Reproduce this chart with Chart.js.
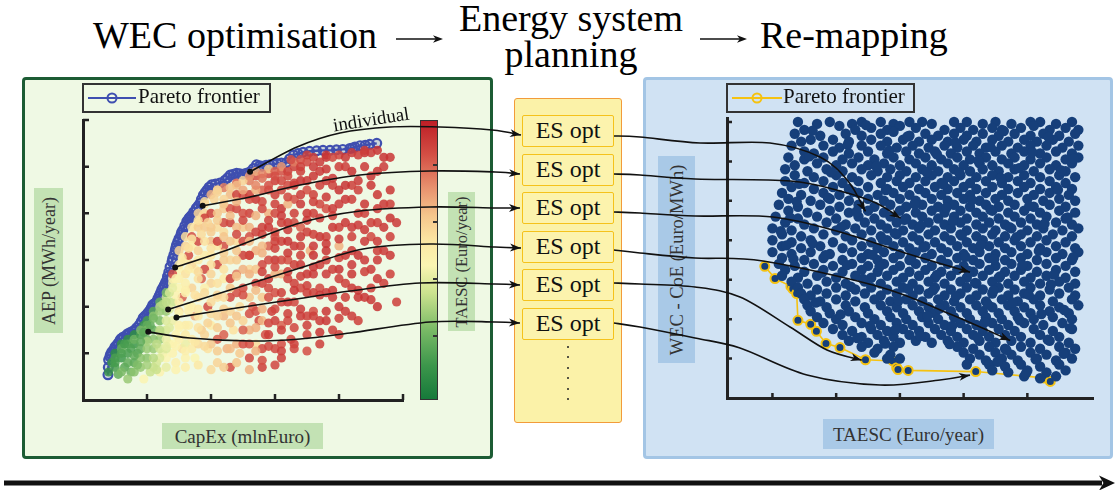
<!DOCTYPE html>
<html>
<head>
<meta charset="utf-8">
<script src="https://cdn.jsdelivr.net/npm/chart.js@4.4.1/dist/chart.umd.min.js"></script>
<style>
  html, body { margin: 0; padding: 0; background: #fff; }
  #stage { position: relative; width: 1116px; height: 490px; overflow: hidden;
           font-family: 'Liberation Serif', 'DejaVu Serif', serif; color: #111; }
  .title { position: absolute; font-size: 38px; line-height: 38px; white-space: nowrap; color: #000; }
  .panel { position: absolute; box-sizing: border-box; border-radius: 4px; }
  .lab { position: absolute; box-sizing: border-box; color: #333; white-space: nowrap; }
  .lab span { position: absolute; left: 50%; top: 50%; line-height: 1; transform: translate(-50%, -50%); }
  .lab.rot span { transform: translate(-50%, -50%) rotate(-90deg); }
  .es { position: absolute; box-sizing: border-box; left: 522px; width: 92px; height: 32px;
        background: #fcf3ad; border: 1.5px solid #f5c21b; border-radius: 2px;
        font-size: 24px; line-height: 29px; text-align: center; color: #111; }
  .legend { position: absolute; box-sizing: border-box; border: 2px solid #333; height: 30px; }
  .legend span { position: absolute; font-size: 21px; line-height: 21px; top: 1px; color: #111; white-space: nowrap; }
  canvas { position: absolute; }
</style>
</head>
<body>
<div id="stage">
  <div class="title" style="left:93px;top:16px">WEC optimisation</div>
  <div class="title" style="left:421px;top:-1px;width:300px;text-align:center">Energy system</div>
  <div class="title" style="left:421px;top:35px;width:300px;text-align:center">planning</div>
  <div class="title" style="left:760px;top:16px">Re-mapping</div>

  <div class="panel" style="left:22px;top:77px;width:471px;height:382px;background:#eff9e4;border:3px solid #1c5c34"></div>
  <div class="panel" style="left:643px;top:77px;width:470px;height:382px;background:#d0e2f3;border:3px solid #a3c5e5"></div>
  <div class="panel" style="left:514px;top:98px;width:108px;height:325px;background:#fbf2a8;border:1.5px solid #f29b3a;border-radius:3px"></div>

  <canvas id="wecChart" width="340" height="300" style="left:73px;top:110px"></canvas>
  <div id="colorbar" style="position:absolute;left:420px;top:120px;width:18px;height:280px;box-sizing:border-box;border:1px solid #333"></div>

  <div class="lab rot" style="left:34px;top:188px;width:29px;height:145px;background:#c3e2b4"><span style="font-size:18px">AEP (MWh/year)</span></div>
  <div class="lab rot" style="left:448px;top:192px;width:27px;height:139px;background:#c3e2b4"><span style="font-size:16.5px">TAESC (Euro/year)</span></div>
  <div class="lab" style="left:162px;top:423px;width:161px;height:26px;background:#c3e2b4"><span style="font-size:19px">CapEx (mlnEuro)</span></div>
  <div class="lab" style="left:331px;top:106px;width:80px;height:26px;transform:rotate(-9deg);color:#111"><span style="font-size:19px">individual</span></div>

  <div class="legend" style="left:82px;top:83px;width:189px">
    <svg width="52" height="26" style="position:absolute;left:2px;top:0"><line x1="2" y1="13" x2="50" y2="13" stroke="#3f4fb0" stroke-width="2"/><circle cx="26" cy="13" r="4.5" fill="none" stroke="#3f4fb0" stroke-width="2"/></svg>
    <span style="left:54px">Pareto frontier</span>
  </div>

  <div id="esColumn"></div>

  <canvas id="remapChart" width="386" height="300" style="left:717px;top:108px"></canvas>
  <div class="lab rot" style="left:658px;top:156px;width:37px;height:207px;background:#a9c9e7"><span style="font-size:18.5px">WEC - CoE (Euro/MWh)</span></div>
  <div class="lab" style="left:823px;top:419px;width:171px;height:30px;background:#a9c9e7"><span style="font-size:19px">TAESC (Euro/year)</span></div>
  <div class="legend" style="left:726px;top:83px;width:189px">
    <svg width="54" height="26" style="position:absolute;left:2px;top:0"><line x1="2" y1="13" x2="52" y2="13" stroke="#f5c211" stroke-width="2"/><circle cx="27" cy="13" r="4.5" fill="none" stroke="#f5c211" stroke-width="2"/></svg>
    <span style="left:55px">Pareto frontier</span>
  </div>

  <canvas id="overlay" width="1116" height="490" style="left:0;top:0"></canvas>
</div>

<script>
// ── values ──────────────────────────────────────────────────
// left plot: CapEx (x, 10 units per tick) vs AEP (y), colour = TAESC (0..100)
const capexTicks = [10, 20, 30, 40, 50];
const aepTicks = [10, 20, 30, 40, 50, 60];
const taescBarTicks = [22.5, 43, 63.5, 84];

const wecPareto = [
  [3.9,5.4],[3.95,7.0],[4.0,8.6],[4.2,9.3],[4.3,9.8],[4.5,10.3],[4.8,10.8],[5.0,11.4],[5.3,11.8],[5.5,12.2],
  [5.8,12.9],[6.0,13.2],[6.3,13.5],[6.8,13.9],[7.0,14.2],[7.3,14.4],[7.7,14.7],[8.1,15.0],[8.4,15.5],[8.8,16.1],
  [9.1,16.8],[9.4,17.6],[9.7,18.0],[10.0,18.4],[10.2,18.8],[10.5,19.3],[10.7,19.8],[10.9,20.4],[11.2,20.7],[11.5,21.1],
  [11.7,21.7],[11.9,22.3],[12.1,22.9],[12.3,23.6],[12.5,24.1],[12.7,24.6],[12.9,25.2],[13.1,25.7],[13.2,26.5],[13.4,27.4],
  [13.6,28.5],[13.9,29.6],[14.0,30.3],[14.2,31.1],[14.4,32.0],[14.5,32.6],[14.6,33.2],[14.8,33.9],[15.0,34.6],[15.3,35.4],
  [15.4,35.9],[15.6,36.4],[15.9,37.3],[16.2,38.2],[16.4,38.6],[16.6,39.0],[16.8,39.3],[17.0,39.6],[17.3,40.3],[17.7,41.1],
  [18.0,41.6],[18.3,42.2],[18.5,43.0],[18.8,43.9],[19.1,44.5],[19.4,45.0],[19.7,45.6],[20.1,46.1],[20.7,46.3],[21.4,46.5],
  [22.2,47.1],[22.6,47.6],[23.0,48.2],[23.5,48.4],[24.0,48.6],[24.5,48.5],[25.0,48.4],[25.5,48.6],[26.1,48.9],[26.6,49.6],
  [27.1,50.4],[27.6,50.2],[28.0,50.1],[28.6,50.3],[29.2,50.4],[29.8,50.5],[30.3,50.7],[31.0,50.8],[31.8,50.9],[32.3,51.7],
  [32.9,52.5],[33.6,52.8],[34.4,53.1],[35.4,53.3],[36.5,53.4],[37.5,53.5],[38.6,53.5],[39.6,53.6],[40.6,53.7],[41.7,53.9],
  [42.1,54.0],[42.5,54.2],[43.3,54.5],[44.1,54.6],[44.8,54.8],[45.9,55.0]
];

// [capex, aep, taesc]
const wecSamples = [
  [4,6,10],[4.5,8,12],[5,7,15],[5,10,8],[5.5,5.5,20],[6,9,12],[6,12,10],[6.5,7,18],[7,10,14],[7,13,9],
  [7.5,6,22],[8,8,18],[8,12,12],[8,14,8],[8.5,10,16],[7,4.5,30],[5,9,15],[6,11,20],[7,12,18],[8,13,22],
  [9,7,30],[9,11,20],[9,14,15],[9.5,16,12],[10,9,28],[10,13,22],[10,17,14],[10.5,6,38],[11,11,30],[11,15,20],
  [11,19,18],[11.5,8,40],[12,13,30],[12,17,25],[12,21,20],[12.5,10,45],[9.5,4.5,48],[12,6,50],[9,15,25],[10,16,20],
  [11,18,28],[12,20,35],[13,22,40],[14,25,45],[15,28,50],[16,30,55],[17,33,55],[18,38,58],[19,40,62],
  [13,9,48],[13,15,40],[13,19,30],[13,23,25],[13.5,12,55],[14,17,45],[14,21,38],[14,26,52],[14.5,8,52],[14.5,14,50],
  [15,19,60],[15,24,48],[15,29,55],[15,32,62],[15.5,11,58],[15.5,22,85],[16,16,55],[16,27,58],[16,35,60],[16,9,50],[14,27,88],
  [16.5,20,50],[16.5,31,88],[17,13,55],[17,24,62],[17,37,58],[17.5,9,48],[17.5,18,70],[17.5,28,52],[18,34,90],[18,40,62],
  [18,22,60],[18.5,15,65],[18.5,26,85],[19,31,55],[19,37,65],[19,42,60],[19.5,11,58],[19.5,20,90],[20,25,62],[20,34,68],
  [20,44,70],[20,16,55],[20,40,92],
  [21,8,62],[21,13,85],[21,22,58],[21,29,90],[21,37,60],[21,45,75],[22,18,68],[22,26,55],[22,33,88],[22,41,65],
  [22,45.5,80],[22.5,11,70],[23,7,88],[23,22,90],[23,30,62],[23,38,92],[23,44,68],[23.5,15,58],[24,27,80],[24,34,60],
  [24,46.5,85],[24,41,90],[24.5,10,65],[24.5,20,60],[25,24,88],[25,31,92],[25,37,65],[25,44,90],
  [26,9,90],[26,15,70],[26,28,62],[26,35,88],[26,40,92],[26,47,80],[26.5,20,85],[27,12,60],[27,25,92],[27,32,70],
  [27,43,94],[27,48,88],[27.5,17,90],[28,7,92],[28,22,65],[28,29,90],[28,37,92],[28,45,85],[28.5,14,88],[29,26,94],
  [29,33,85],[29,40,70],[29,48.5,90],[29.5,19,92],[30,11,90],[30,23,88],[30,30,95],[30,44,92],[30,36,88],
  [31,9,92],[31,16,85],[31,27,70],[31,34,92],[31,41,95],[31,49,88],[32,21,95],[32,30,88],[32,38,94],[32,46,90],
  [32.5,13,90],[33,25,92],[33,33,94],[33,43,88],[33,50,92],[34,18,93],[34,29,94],[34,37,85],[34,47,95],[35,14,90],
  [35,23,92],[35,40,94],[35,51,90],[35.5,32,70],[36,27,93],[36,44,92],[36,19,88],
  [37,12,92],[37,35,95],[37,49,93],[37,24,90],[38,17,94],[38,30,92],[38,41,88],[38,52,95],[39,22,93],[39,37,94],
  [39,46,92],[40,14,92],[40,28,95],[40,33,70],[41,19,93],[41,43,94],[41,50,92],[42,24,94],[42,37,93],
  [43,17,92],[43,31,95],[43,47,93],[44,22,94],[44,40,92],[44,53,95],[45,28,93],[45,35,90],[46,20,95],[46,44,94],
  [47,25,92],[47,32,93],[48,39,95],[48,52,94],[49,21,92],[49,38,93],
  [21,45,60],[25,47,62],[27,49,70],[29,49.5,65],[31,50,75],[33,51,80],[36,52,92],[38,52.5,94],[40,52.5,90],[42,53,93],
  [44,53.5,92],[46,53.5,95],[34,51.5,88],[30,49,85],[28,48.5,78],[24,46,68],
  [14,12,48],[15,16,52],[16,23,50],[17,20,53],[18,18,56],[19,24,52],[20,29,58],[21,33,56],[22,36,60],[16,12,45],
  [13,17,42],[12,9,42],[11,7,38],
  [15,21,55],[16,25,52],[16,33,62],[17,29,60],[17,35,88],[18,26,58],[18,30,55],[18,37,64],[19,28,90],[19,34,58],
  [19,39,92],[20,21,60],[20,31,56],[20,37,65],[21,18,62],[21,25,58],[21,34,92],[21,40,66],[22,14,85],[22,22,60],
  [22,30,64],[22,38,90],[22,43,62],[23,19,62],[23,26,92],[23,34,66],[23,41,88],[24,12,70],[24,23,88],[24,30,64],
  [24,37,68],[24,44,92],[25,17,62],[25,28,70],[25,34,90],[25,40,88],[26,12,88],[26,22,66],[26,31,90],[26,37,70],
  [26,44,92],[27,19,88],[27,28,66],[27,36,92],[27,45,70],[28,11,90],[28,17,68],[28,25,92],[28,33,68],[28,41,90],
  [29,14,92],[29,22,88],[29,30,90],[29,37,94],[29,45,88],[30,17,92],[30,27,70],[30,34,92],[30,40,90],[30,47,92],
  [31,12,88],[31,21,92],[31,30,90],[31,38,92],[31,45,90],[32,17,90],[32,26,92],[32,34,95],[32,42,70],[32,49,92],
  [33,12,92],[33,21,90],[33,29,92],[33,38,90],[33,46,92],[34,24,90],[34,33,92],[34,42,94],[34,50,92],[35,18,92],
  [35,27,94],[35,36,92],[35,45,88],[36,23,92],[36,31,95],[36,40,92],[36,48,94],[37,17,93],[37,29,92],[37,42,90],
  [38,23,93],[38,35,92],[38,47,94],[39,28,92],[39,41,93],[40,20,94],[40,37,92],[40,45,95],[41,25,92],[41,31,94],
  [42,29,93],[42,46,92],[43,22,94],[43,40,92],[44,34,93],[45,24,92],[45,48,94],[46,30,93],[46,38,92],[47,42,94],
  [47,50,93],[48,27,92],[48,45,94],
  [10,11,30],[11,9,35],[12,11,40],[13,13,45],[14,10,50],[15,13,52],[16,14,55],[17,11,55],[18,12,60],[19,14,62],
  [20,12,65],[10,15,25],[11,13,28],[12,15,35],[13,11,42],[9,9,28],[8,6,28],[6,6,25],[7,8,20],
  [32.5,51.5,88],[35,52.5,92],[37,51,93],[39,52,90],[41,52,94],[43,52.5,92],[45,53,93],[47,52,95],
  [26,48,75],[28,47.5,82],[30,48,88],[32,48,90],[34,49,92],[36,50,93],[38,49.5,94],[40,50,92],[42,49,95],[44,50,93],[46,49,94],
  [21,44.5,62],[23,45.5,66],[25,45,72],[27,46,78],[29,46,88],[31,47,90],[33,46.5,92],[35,47,94],[37,46,92],[39,47.5,93],
  [41,46,95],[43,45,92],[45,46,94],
  [19,42.5,60],[20.5,43,62],[22,42,66],[24,42.5,70],[26,43,88],[28,42.5,90],[30,42,92],[32,43.5,90],[34,44,93],[36,42.5,92],
  [38,43.5,94],[40,42,93],[42,43,92],[44,42,94],[46,41,93],[48,42,92],
  [18,38.5,58],[19.5,38,62],[21,38.5,64],[23,39.5,68],[25,38.5,90],[27,39.5,70],[29,38.5,92],[31,39.5,93],[33,40,92],[35,38.5,94],
  [37,39,93],[39,39.5,92],[41,38,94],[43,37.5,93],[45,38,92],[47,37,94],
  [17,34.5,56],[18.5,35.5,60],[20,36,64],[22,35,66],[24,35.5,90],[26,34,68],[28,35.5,92],[30,35,90],[32,36.5,93],[34,35,94],
  [36,35.5,92],[38,33.5,94],[40,34.5,93],[42,35,92],[44,36.5,94],[46,34,93],[48,35,92],
  [15.5,30.5,55],[16.5,32.5,58],[18,32,62],[20,32.5,58],[22,31.5,64],[24,32,66],[26,31,90],[28,31.5,70],[30,32.5,92],[32,31.5,94],
  [34,31,92],[36,33,93],[38,32,95],[40,30.5,92],[42,32,94],[44,30,93],[46,32,92],[48,31,94],
  [15,26,52],[16.5,28,55],[18,27.5,60],[20,27,62],[22,28,58],[24,26.5,66],[26,27,70],[28,27.5,92],[30,28.5,90],[32,27.5,93],
  [34,26.5,92],[36,28.5,94],[38,27,93],[40,26,92],[42,27,94],[44,27.5,92],[46,26,93],
  [14.5,22.5,50],[16,23.5,52],[17.5,22.5,58],[19,23,60],[21,22.5,62],[23,24,66],[25,22.5,88],[27,23.5,68],[29,24,90],[31,23,92],
  [33,23.5,94],[35,24.5,92],[37,22.5,93],[39,23.5,94],[41,22,92],[43,23.5,93],[45,21.5,94],
  [13.5,19.5,42],[15,18.5,48],[16.5,19,52],[18,19.5,56],[20,18.5,60],[22,19.5,64],[24,18,66],[26,18.5,88],[28,19.5,70],[30,19.5,90],
  [32,18.5,92],[34,19.5,93],[36,18,92],[38,19,94],[40,17.5,92],[42,18,93],
  [12,14.5,36],[13.5,15.5,42],[15,15.5,50],[16.5,16,52],[18,15.5,58],[19.5,16.5,62],[21,15.5,64],[23,16.5,66],[25,15,85],[27,15.5,70],
  [29,16.5,90],[31,15,92],[33,15.5,90],[35,16,92],[37,14.5,94],[39,15,92],
  [10,12.5,32],[11.5,12,36],[13,11.5,44],[14.5,11.5,50],[16,10.5,52],[17.5,12.5,56],[19,11.5,60],[21,10.5,64],[23,11,68],[25,12,88],
  [27,10.5,70],[29,11.5,90],[31,10.5,92],[33,11,90],[35,10.5,88],
  [8.5,7.5,26],[10,7.5,32],[11.5,6.5,38],[13,7,44],[14.5,6.5,50],[16,7,52],[18,7.5,56],[20,6.5,60],[22,7,64],[24,8,66],
  [26,6.5,70],[28,8.5,88],[30,7.5,90],
  [5,8,14],[6,10,16],[6.5,12,14],[7.5,11,16],[8,9.5,20],[9,12.5,20],[9.5,14.5,18],[10.5,16,20],[11,17.5,24],[12,19,30],
  [12.5,20.5,34],[13,21,36],[13.5,23,40],[14,24,44],[14.5,26,48]
];

// designs picked for energy-system runs [capex, aep]
const wecPicks = [[26.1,48.9],[18.7,41.6],[14.4,28.4],[13.3,19.4],[14.6,17.7],[10.2,14.6]];

// right plot: TAESC (x) vs WEC CoE (y)
const remapXTicks = [10, 20, 30, 40, 50];
const remapYTicks = [10, 20, 30, 40, 50, 60, 70];

const remapPareto = [
  [8.8,33.4],[10.4,30.3],[12.9,28.3],[13.2,27.7],[13.8,26.5],[14.0,19.7],[16.0,18.7],[16.9,16.9],[18.4,13.8],
  [20.6,12.8],[24.6,9.7],[28.9,9.4],[29.5,7.7],[29.7,7.2],[31.3,7.0],[41.9,6.7],[52.6,5.1],[53.6,4.2]
];

const remapSamples = [
  [14,70],[17,69.5],[19,70],[22.5,69.5],[24,70],[27,70],[29,69.5],[31.5,70],[33.5,70],[35,69.5],[38.5,70],[40.5,70],[43,69.5],[45,70],[47.5,69.5],[50.5,70],[52,70],[54.5,69.5],[57,70],
  [15,68],[20.5,69],[23,68],[25.5,68.5],[28,68],[30,69],[32.5,68.5],[37,68],[39.5,68.5],[41.5,68],[44.5,68.5],[46,68],[49,68.5],[51,69],[53.5,68],[56,68.5],[58,68],
  [13.5,67],[17.5,66.5],[21.5,67],[24,66.5],[27,67],[29,67.5],[31.5,66.5],[34,67],[36,66.5],[38.5,67],[40.5,66.5],[43,67],[45.5,66.5],[48,67],[50.5,66.5],[52.5,67],[55,66.5],[57.5,67],
  [14.5,65],[16,65.5],[19.5,65.5],[22,65],[25.5,65.5],[28,65],[30.5,65.5],[33,65],[35,65.5],[37.5,65],[40,65.5],[42,65],[44.5,65.5],[47,65],[49.5,65.5],[51.5,65],[54,65.5],[56.5,65],
  [13,64],[18,64],[20.5,63.5],[24,64],[27,64],[29.5,63.5],[32,64],[34.5,63.5],[37,64],[39,63.5],[41.5,64],[43.5,63.5],[46,64],[48.5,63.5],[50.5,64],[53,64],[55.5,63.5],[58,64],
  [15,62.5],[16.5,62],[19.5,62.5],[22,62],[25,62.5],[28,62],[31,62.5],[33,62],[35.5,62.5],[38,62],[40.5,62.5],[42.5,62],[45,62.5],[47.5,62],[49.5,62.5],[52,62],[54.5,62.5],[57,62],
  [12.5,61],[15,60.5],[18,61],[21,60.5],[23.5,61],[26,60.5],[29,61],[31.5,60.5],[34,61],[36.5,60.5],[39,61],[41,60.5],[43.5,61],[46,60.5],[48,61],[50.5,60.5],[53,61],[56,60.5],[58,61],
  [13.5,59],[17,59.5],[20,59],[22.5,59.5],[25,59],[27.5,59.5],[30,59],[32.5,59.5],[35,59],[37.5,59.5],[40,59],[42.5,59.5],[44.5,59],[47,59.5],[49.5,59],[52,59.5],[54.5,59],[57,59.5],
  [12,58],[15.5,57.5],[18.5,58],[21,57.5],[24,58],[26.5,57.5],[28.5,58],[31,57.5],[33.5,58],[36,57.5],[38.5,58],[41,57.5],[43,58],[45.5,57.5],[48,58],[51,57.5],[53.5,58],[56,57.5],
  [13.5,56.5],[16.5,56],[20,56.5],[22.5,56],[25.5,56.5],[28,56],[30,56.5],[32.5,56],[35,56.5],[37.5,56],[39.5,56.5],[42,56],[44.5,56.5],[47,56],[49.5,56.5],[52,56],[55,56.5],[57.5,56],
  [12,55],[15,54.5],[18,55],[21,54.5],[23.5,55],[27,54.5],[29.5,55],[31.5,54.5],[34,55],[36.5,54.5],[38.5,55],[41,54.5],[43.5,55],[46,54.5],[48.5,55],[50.5,54.5],[53.5,55],[56,54.5],
  [13,53.5],[16.5,53],[19.5,53.5],[22,53],[25,53.5],[28,53],[30.5,53.5],[33,53],[35.5,53.5],[37.5,53],[40,53.5],[42,53],[44.5,53.5],[47,53],[49.5,53.5],[52,53],[54.5,53.5],[57,53],
  [11.5,52],[14.5,51.5],[18,52],[20.5,51.5],[23.5,52],[26.5,51.5],[29,52],[31.5,51.5],[34,52],[36.5,51.5],[39,52],[41,51.5],[43.5,52],[46,51.5],[48.5,52],[51,51.5],[53.5,52],[56.5,51.5],
  [12.5,50.5],[16,50],[19,50.5],[22,50],[25,50.5],[27.5,50],[30,50.5],[32.5,50],[35,50.5],[37.5,50],[40,50.5],[42.5,50],[45,50.5],[47,50],[50,50.5],[52.5,50],[55,50.5],[57.5,50],
  [11,49],[14,48.5],[17.5,49],[20.5,48.5],[23.5,49],[26,48.5],[28.5,49],[31,48.5],[33.5,49],[36,48.5],[38.5,49],[41,48.5],[43.5,49],[45.5,48.5],[48,49],[51,48.5],[53.5,49],[56,48.5],
  [12.5,47.5],[15.5,47],[19,47.5],[22,47],[25,47.5],[27.5,47],[30,47.5],[32.5,47],[35,47.5],[37,47],[39.5,47.5],[42,47],[44.5,47.5],[47,47],[49.5,47.5],[52,47],[55,47.5],[57.5,47],
  [10.5,46],[14,45.5],[17,46],[20,45.5],[23.5,46],[26,45.5],[28.5,46],[31,45.5],[33.5,46],[36,45.5],[38.5,46],[40.5,45.5],[43,46],[45.5,45.5],[48,46],[50.5,45.5],[53,46],[56,45.5],
  [12,44.5],[15,44],[18.5,44.5],[21.5,44],[24.5,44.5],[27,44],[29.5,44.5],[32,44],[34.5,44.5],[37,44],[39.5,44.5],[42,44],[44,44.5],[46.5,44],[49,44.5],[51.5,44],[54.5,44.5],[57,44],
  [10,43],[13,42.5],[16.5,43],[20,42.5],[23,43],[25.5,42.5],[28,43],[30.5,42.5],[33,43],[35.5,42.5],[38,43],[40.5,42.5],[43,43],[45,42.5],[47.5,43],[50,42.5],[52.5,43],[55.5,42.5],[58,43],
  [11.5,41.5],[14.5,41],[18,41.5],[21.5,41],[24,41.5],[27,41],[29.5,41.5],[32,41],[34.5,41.5],[37,41],[39.5,41.5],[42,41],[44.5,41.5],[46.5,41],[49,41.5],[51.5,41],[54,41.5],[57,41],
  [10,40],[13,39.5],[16,40],[19.5,39.5],[22.5,40],[25.5,39.5],[28,40],[30.5,39.5],[33,40],[35.5,39.5],[38,40],[40.5,39.5],[43,40],[45.5,39.5],[48,40],[50.5,39.5],[53,40],[56,39.5],
  [11.5,38.5],[14.5,38],[17.5,38.5],[21,38],[24,38.5],[26.5,38],[29,38.5],[31.5,38],[34,38.5],[36.5,38],[39,38.5],[41.5,38],[44,38.5],[46.5,38],[49,38.5],[52,38],[54.5,38.5],[57.5,38],
  [10,37],[13,36.5],[16,37],[19,36.5],[22.5,37],[25,36.5],[27.5,37],[30,36.5],[32.5,37],[35,36.5],[37.5,37],[40,36.5],[42.5,37],[45,36.5],[47.5,37],[50,36.5],[53,37],[55.5,36.5],[58,37],
  [11.5,35.5],[15,35],[18,35.5],[21,35],[24,35.5],[26.5,35],[29,35.5],[31.5,35],[34,35.5],[36.5,35],[39,35.5],[41.5,35],[44,35.5],[46.5,35],[49,35.5],[51.5,35],[54.5,35.5],[57,35],
  [11,34],[13.5,33.5],[16.5,34],[19.5,33.5],[22.5,34],[25,33.5],[27.5,34],[30,33.5],[32.5,34],[35,33.5],[37.5,34],[40,33.5],[42.5,34],[45,33.5],[47.5,34],[50,33.5],[53,34],[56,33.5],
  [12,32.5],[15,32],[18,32.5],[21,32],[24,32.5],[26.5,32],[29,32.5],[31.5,32],[34,32.5],[36.5,32],[39,32.5],[41.5,32],[44,32.5],[46.5,32],[49,32.5],[51.5,32],[54.5,32.5],[57.5,32],
  [11.5,31],[14,30.5],[17,31],[20,30.5],[23,31],[25.5,30.5],[28,31],[30.5,30.5],[33,31],[35.5,30.5],[38,31],[40.5,30.5],[43,31],[45.5,30.5],[48,31],[50.5,30.5],[53,31],[56,30.5],
  [13,29.5],[15.5,29],[18.5,29.5],[21.5,29],[24.5,29.5],[27,29],[29.5,29.5],[32,29],[34.5,29.5],[37,29],[39.5,29.5],[42,29],[44.5,29.5],[47,29],[49.5,29.5],[52,29],[55,29.5],[57.5,29],
  [14,28],[17,27.5],[20,28],[23,27.5],[25.5,28],[28,27.5],[30.5,28],[33,27.5],[35.5,28],[38,27.5],[40.5,28],[43,27.5],[45.5,28],[48,27.5],[50.5,28],[53.5,27.5],[56.5,28],
  [14.5,26.5],[16,26],[18.5,26.5],[21.5,26],[24.5,26.5],[27,26],[29.5,26.5],[32,26],[34.5,26.5],[37,26],[39.5,26.5],[42,26],[44.5,26.5],[47,26],[49.5,26.5],[52,26],[55,26.5],[57.5,26],
  [15,25],[17.5,24.5],[20,25],[23,24.5],[26,25],[28.5,24.5],[31,25],[33.5,24.5],[36,25],[38.5,24.5],[41,25],[43.5,24.5],[46,25],[48.5,24.5],[51,25],[54,24.5],[57,25],
  [15.5,23.5],[18.5,23],[21.5,23.5],[24.5,23],[27,23.5],[29.5,23],[32,23.5],[34.5,23],[37,23.5],[39.5,23],[42,23.5],[44.5,23],[47,23.5],[49.5,23],[52,23.5],[55,23],[58,23.5],
  [16,22],[19,21.5],[22,22],[25,21.5],[28,22],[30.5,21.5],[33,22],[35.5,21.5],[38,22],[40.5,21.5],[43,22],[45.5,21.5],[48,22],[50.5,21.5],[53.5,22],[56.5,21.5],
  [17,20.5],[20,20],[23,20.5],[26,20],[28.5,20.5],[31,20],[33.5,20.5],[36,20],[38.5,20.5],[41,20],[43.5,20.5],[46,20],[48.5,20.5],[51,20],[54,20.5],[57,20],
  [18,19],[21,18.5],[24,19],[27,18.5],[29.5,19],[32,18.5],[34.5,19],[37,18.5],[39.5,19],[42,18.5],[44.5,19],[47,18.5],[49.5,19],[52.5,18.5],[55.5,19],
  [19.5,17.5],[22.5,17],[25.5,17.5],[28,17],[30.5,17.5],[33,17],[35.5,17.5],[38,17],[40.5,17.5],[43,17],[45.5,17.5],[48,17],[51,17.5],[54,17],[57,17.5],
  [21,16],[24,15.5],[26.5,16],[29,15.5],[31.5,16],[34,15.5],[36.5,16],[39,15.5],[41.5,16],[44,15.5],[46.5,16],[49,15.5],[52,16],[55,15.5],
  [22,14.5],[25,14],[27.5,14.5],[30,14],[32.5,14.5],[35,14],[37.5,14.5],[40,14],[42.5,14.5],[45,14],[47.5,14.5],[50.5,14],[53.5,14.5],[56.5,14],
  [24,13],[26.5,12.5],[29,13],[39,13],[41.5,12.5],[44,13],[46.5,12.5],[49,13],[52,12.5],[55,13],[57.5,12.5],
  [26,11.5],[28.5,11],[40,11.5],[42.5,11],[45,11.5],[47.5,11],[50.5,11.5],[53,11],[56,11.5],
  [28,10],[30,10],[41,10],[43.5,9.5],[46,10],[48.5,9.5],[51.5,10],[54.5,9.5],[57,10],
  [40.5,8.5],[44,8.5],[46.5,8],[49,8.5],[52,8],[55,8.5],
  [44.5,7],[47,6.5],[50,7],[53,6.5],[56,7],
  [49.5,5.5],[52,5],[54.5,5.5],
  [16.3,67.8],[21.8,64.2],[26.3,58.7],[31.2,66.3],[35.8,61.8],[39.3,57.2],[44.2,63.7],[48.7,58.3],[53.3,66.2],[57.3,60.7],
  [14.2,54.3],[18.7,50.8],[23.2,47.3],[27.8,52.7],[32.3,49.2],[36.8,54.2],[41.3,50.2],[45.8,55.8],[50.3,48.7],[54.8,52.8],
  [12.8,45.7],[16.3,39.2],[20.8,43.3],[25.7,36.3],[29.2,41.8],[33.7,38.2],[38.3,44.8],[42.7,38.8],[47.2,43.3],[51.8,37.3],[56.3,45.8],
  [13.3,35.2],[17.8,31.8],[22.3,28.2],[26.8,33.3],[31.3,27.7],[35.8,31.2],[40.3,35.8],[44.7,27.3],[49.2,33.7],[53.7,28.8],[57.2,35.7],
  [16.8,24.2],[20.7,21.2],[25.3,18.3],[29.8,24.7],[34.3,20.8],[38.8,25.8],[43.3,19.2],[47.7,24.2],[52.2,21.3],[56.7,17.7],
  [23.3,15.2],[27.7,13.8],[33.2,15.7],[37.8,13.7],[42.2,15.3],[46.7,12.2],[51.3,9.8],[55.7,11.2],[45.3,9.2],[49.8,6.3],
  [30.7,45.2],[34.2,57.3],[28.3,62.7],[24.7,69.2],[46.3,67.7],[37.3,48.3],[41.8,29.2],[36.2,22.7],[31.8,35.8],[27.3,40.2],
  [33.3,43.7],[39.7,41.2],[44.2,47.8],[48.3,40.8],[52.7,44.2],[38.2,18.3],[43.8,23.7],[29.3,17.3],[35.2,27.3],[40.8,32.2],
  [42.3,60.2],[38.7,64.8],[50.8,62.3],[55.3,57.7],[19.2,57.2],[15.8,61.3],[22.7,52.3],[13.8,49.8],[11.3,42.3],[12.2,38.7],
  [18.3,36.2],[21.7,33.7],[24.2,30.2],[45.7,30.8],[50.2,26.2],[54.2,31.3],[55.8,22.3],[48.8,19.7],[53.2,14.8],[44.8,35.2]
];

// re-mapped designs that the arrows point at [taesc, coe]
const remapTargets = [[24.6,47.3],[30.1,45.6],[41.0,31.9],[47.3,14.6],[24.0,9.6],[41.0,5.8]];

// colour map for TAESC (reversed red-yellow-green)
const taescStops = [
  [0, [22,122,58]], [12, [60,150,75]], [25, [122,186,102]], [38, [202,226,142]], [48, [250,245,178]],
  [56, [252,233,165]], [66, [245,198,140]], [76, [232,145,110]], [88, [211,78,68]], [100, [190,30,38]]
];

function taescColor(v, a) {
  let i = 0;
  while (i < taescStops.length - 2 && v > taescStops[i + 1][0]) i++;
  const [v0, c0] = taescStops[i], [v1, c1] = taescStops[i + 1];
  const t = Math.max(0, Math.min(1, (v - v0) / (v1 - v0)));
  const c = c0.map((k, j) => Math.round(k + (c1[j] - k) * t));
  return a == null ? `rgb(${c})` : `rgba(${c},${a})`;
}

// ── chart helpers ───────────────────────────────────────────
const AXIS = '#222';

// tick marks drawn inward from the axis lines
const inwardTicks = {
  id: 'inwardTicks',
  afterDraw(chart, args, opts) {
    const { ctx, chartArea } = chart;
    const xs = chart.scales.x, ys = chart.scales.y;
    ctx.save();
    ctx.strokeStyle = AXIS;
    ctx.lineWidth = 2.5;
    ctx.beginPath();
    opts.x.forEach(v => {
      const px = xs.getPixelForValue(v);
      ctx.moveTo(px, chartArea.bottom);
      ctx.lineTo(px, chartArea.bottom - opts.len);
    });
    opts.y.forEach(v => {
      const py = ys.getPixelForValue(v);
      ctx.moveTo(chartArea.left, py);
      ctx.lineTo(chartArea.left + opts.len, py);
    });
    ctx.stroke();
    ctx.restore();
  }
};

function axisOpts(min, max, ticks) {
  return {
    type: 'linear', min, max,
    afterBuildTicks: s => { s.ticks = ticks.map(v => ({ value: v })); },
    ticks: { display: false },
    grid: { display: false, drawTicks: false },
    border: { display: true, width: 3, color: AXIS }
  };
}

const baseOptions = (xAxis, yAxis, ticks) => ({
  responsive: false,
  animation: false,
  events: [],
  layout: { padding: 10 },
  scales: { x: xAxis, y: yAxis },
  plugins: { legend: { display: false }, tooltip: { enabled: false }, inwardTicks: ticks }
});

// ── WEC optimisation scatter ────────────────────────────────
const wecChart = new Chart(document.getElementById('wecChart'), {
  type: 'scatter',
  data: {
    datasets: [
      {
        data: wecSamples.map(p => ({ x: p[0], y: p[1] })),
        pointRadius: 4.6,
        pointBorderWidth: 0,
        pointBackgroundColor: wecSamples.map(p => taescColor(p[2], 0.85)),
        clip: false
      },
      {
        data: wecPareto.map(p => ({ x: p[0], y: p[1] })),
        showLine: true,
        borderColor: '#3f4fb0',
        borderWidth: 2.4,
        pointRadius: 4.4,
        pointBorderWidth: 2.2,
        pointBorderColor: '#3f4fb0',
        pointBackgroundColor: 'rgba(63,79,176,0.2)',
        clip: false
      }
    ]
  },
  options: baseOptions(axisOpts(0, 50, capexTicks), axisOpts(0, 60, aepTicks),
    { x: capexTicks, y: aepTicks, len: 6 }),
  plugins: [inwardTicks]
});

// ── Re-mapping scatter ──────────────────────────────────────
const remapChart = new Chart(document.getElementById('remapChart'), {
  type: 'scatter',
  data: {
    datasets: [
      {
        data: remapSamples.map(p => ({ x: p[0], y: p[1] })),
        pointRadius: 5.2,
        pointBorderWidth: 0,
        pointBackgroundColor: '#163f7a',
        clip: false
      },
      {
        data: remapPareto.map(p => ({ x: p[0], y: p[1] })),
        showLine: true,
        borderColor: '#f5c211',
        borderWidth: 1.6,
        pointRadius: 4.5,
        pointBorderWidth: 2,
        pointBorderColor: '#f5c211',
        pointBackgroundColor: '#163f7a',
        clip: false
      }
    ]
  },
  options: baseOptions(axisOpts(2.87, 60.3, remapXTicks), axisOpts(0, 71, remapYTicks),
    { x: remapXTicks, y: remapYTicks, len: 5 }),
  plugins: [inwardTicks]
});

// ── colour bar ──────────────────────────────────────────────
const bar = document.getElementById('colorbar');
bar.style.background = 'linear-gradient(to top, ' +
  taescStops.map(s => `${taescColor(s[0])} ${s[0]}%`).join(', ') + ')';
taescBarTicks.forEach(v => {
  const t = document.createElement('div');
  t.style.cssText = `position:absolute;right:0;width:4px;height:1.5px;background:#333;top:${(100 - v) * 2.78 - 1}px`;
  bar.appendChild(t);
});

// ── ES opt column ───────────────────────────────────────────
const esLabels = ['ES opt', 'ES opt', 'ES opt', 'ES opt', 'ES opt', 'ES opt'];
const esCol = document.getElementById('esColumn');
esLabels.forEach((txt, i) => {
  const d = document.createElement('div');
  d.className = 'es';
  d.style.top = (115 + i * 38.5) + 'px';
  d.textContent = txt;
  esCol.appendChild(d);
});
for (let i = 0; i < 6; i++) {
  const d = document.createElement('div');
  d.style.cssText = `position:absolute;left:567px;top:${346 + i * 10.4}px;width:2px;height:2px;border-radius:1px;background:#222`;
  esCol.appendChild(d);
}

// ── connecting arrows ───────────────────────────────────────
const leftRoutes = [
  { via: [[297,147],[340,133],[390,127],[440,127],[492,130]], tip: [521,135] },
  { via: [[250,197],[300,185],[360,175],[430,171],[495,172]], tip: [520,174] },
  { via: [[230,249],[300,223],[360,211],[430,207],[495,208]], tip: [520,208] },
  { via: [[230,290],[300,268],[363,249],[430,244],[495,247]], tip: [521,248] },
  { via: [[230,309],[290,300],[350,291],[420,283],[495,284]], tip: [520,285] },
  { via: [[190,338],[250,341],[300,339],[350,333],[430,322],[495,322]], tip: [520,323] }
];
const rightRoutes = [
  { start: [614,136], via: [[640,137],[700,143],[770,143],[820,157],[848,181]] },
  { start: [614,174], via: [[640,175],[695,179],[790,181],[840,191],[876,203]] },
  { start: [614,212], via: [[640,213],[695,216],[773,217],[840,232],[905,253]] },
  { start: [614,250], via: [[640,253],[695,258],[763,261],[880,287],[950,314]] },
  { start: [614,283], via: [[640,284],[695,287],[740,297],[790,327],[827,350]] },
  { start: [614,323], via: [[640,327],[695,338],[740,348],[807,375],[880,385],[940,380]] }
];

function pagePoint(chart, canvasId, p) {
  const c = document.getElementById(canvasId);
  return {
    x: c.offsetLeft + chart.scales.x.getPixelForValue(p[0]),
    y: c.offsetTop + chart.scales.y.getPixelForValue(p[1])
  };
}

function smoothPath(ctx, pts) {
  ctx.moveTo(pts[0].x, pts[0].y);
  let lastCtl = pts[0];
  for (let i = 0; i < pts.length - 1; i++) {
    const p0 = pts[i - 1] || pts[i], p1 = pts[i], p2 = pts[i + 1], p3 = pts[i + 2] || p2;
    const c1 = { x: p1.x + (p2.x - p0.x) / 6, y: p1.y + (p2.y - p0.y) / 6 };
    const c2 = { x: p2.x - (p3.x - p1.x) / 6, y: p2.y - (p3.y - p1.y) / 6 };
    ctx.bezierCurveTo(c1.x, c1.y, c2.x, c2.y, p2.x, p2.y);
    lastCtl = c2;
  }
  return lastCtl;
}

function arrowHead(ctx, tip, from, len, half) {
  const a = Math.atan2(tip.y - from.y, tip.x - from.x);
  ctx.save();
  ctx.translate(tip.x, tip.y);
  ctx.rotate(a);
  ctx.beginPath();
  ctx.moveTo(0, 0);
  ctx.lineTo(-len, -half);
  ctx.lineTo(-len * 0.72, 0);
  ctx.lineTo(-len, half);
  ctx.closePath();
  ctx.fill();
  ctx.restore();
}

function drawCurve(ctx, pts, withHead) {
  ctx.beginPath();
  const ctl = smoothPath(ctx, pts);
  ctx.stroke();
  if (withHead) arrowHead(ctx, pts[pts.length - 1], ctl, 11, 4);
}

const ov = document.getElementById('overlay').getContext('2d');
ov.strokeStyle = '#111';
ov.fillStyle = '#111';
ov.lineWidth = 1.6;

leftRoutes.forEach((r, i) => {
  const s = pagePoint(wecChart, 'wecChart', wecPicks[i]);
  const pts = [s, ...r.via.map(p => ({ x: p[0], y: p[1] })), { x: r.tip[0], y: r.tip[1] }];
  drawCurve(ov, pts, true);
  ov.beginPath();
  ov.arc(s.x, s.y, 3, 0, Math.PI * 2);
  ov.fill();
});

rightRoutes.forEach((r, i) => {
  const e = pagePoint(remapChart, 'remapChart', remapTargets[i]);
  const pts = [{ x: r.start[0], y: r.start[1] }, ...r.via.map(p => ({ x: p[0], y: p[1] })), e];
  drawCurve(ov, pts, true);
});

// title arrows
[[396, 443], [700, 747]].forEach(([x0, x1]) => {
  ov.beginPath();
  ov.moveTo(x0, 39);
  ov.lineTo(x1 - 4, 39);
  ov.lineWidth = 1.5;
  ov.stroke();
  arrowHead(ov, { x: x1, y: 39 }, { x: x0, y: 39 }, 10, 3.8);
});

// time line at the bottom
ov.beginPath();
ov.lineWidth = 5;
ov.moveTo(4, 483);
ov.lineTo(1102, 483);
ov.stroke();
arrowHead(ov, { x: 1115, y: 483 }, { x: 4, y: 483 }, 16, 7.5);
</script>
</body>
</html>
